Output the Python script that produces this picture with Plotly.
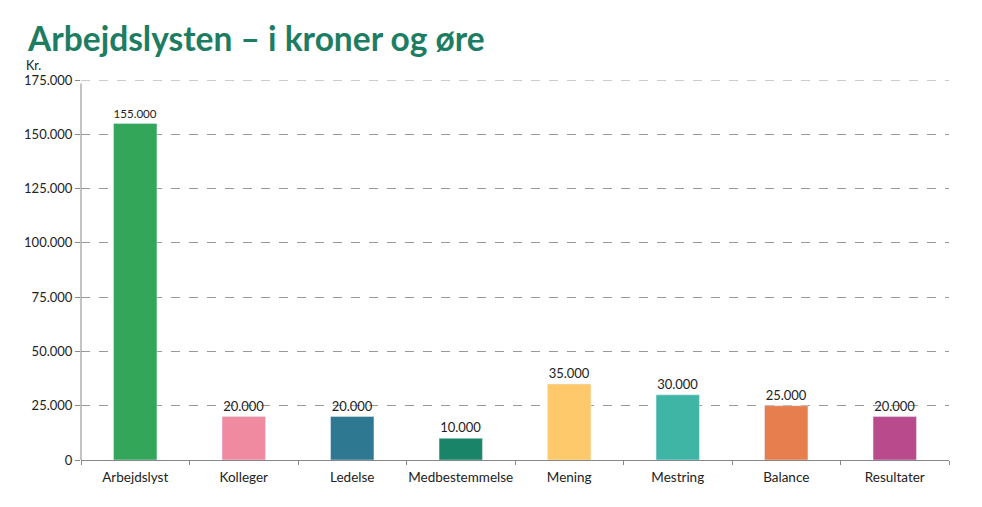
import plotly.graph_objects as go

categories = ["Arbejdslyst", "Kolleger", "Ledelse", "Medbestemmelse", "Mening", "Mestring", "Balance", "Resultater"]
values = [155000, 20000, 20000, 10000, 35000, 30000, 25000, 20000]
colors = ["#33a65a", "#ef8aa0", "#2e7891", "#1a8468", "#fdc96a", "#3fb5a6", "#e77e4e", "#b94a8c"]
y_ticks = [0, 25000, 50000, 75000, 100000, 125000, 150000, 175000]

# page body has an 8px margin, so offset everything by 8px
OFF = 8
W, H = 982, 507
L, T = 81 - OFF, 80 - OFF
R = W - (949 - OFF)
B = H - (460 - OFF)
pw, ph = W - L - R, H - T - B

fig = go.Figure(go.Bar(
    x=categories, y=values, marker_color=colors,
    text=values, texttemplate="%{y:,d}", textposition="outside",
    textfont=dict(family="Lato", size=13, color="#222"),
    cliponaxis=False,
))

fig.update_layout(
    width=W, height=H,
    margin=dict(l=L, r=R, t=T, b=B),
    paper_bgcolor="white", plot_bgcolor="white",
    separators=",.",
    bargap=0.6,
    showlegend=False,
    font=dict(family="Lato", size=13, color="#222"),
    title=dict(text="<b>Arbejdslysten – i kroner og øre</b>", x=(28 - OFF) / W, xanchor="left",
               xref="container",
               y=1 - (39 - OFF) / H, yanchor="middle",
               font=dict(family="Lato", size=33.5, color="#1d7d63")),
    annotations=[dict(text="Kr.", xref="paper", yref="paper",
                      x=-(81 - 24) / pw, y=1 + (80 - 65) / ph,
                      xanchor="left", yanchor="middle", showarrow=False,
                      font=dict(family="Lato", size=12.5, color="#222"))],
    shapes=[
        dict(type="line", xref="paper", yref="y", x0=0, x1=1, y0=175000, y1=175000,
             line=dict(color="#999", width=1, dash="dash"), layer="below"),
        dict(type="line", xref="paper", yref="y", x0=0, x1=0, y0=0, y1=173400,
             line=dict(color="#888", width=1), layer="above"),
    ],
)

fig.update_xaxes(
    automargin=False, tickangle=0,
    showline=True, linecolor="#888", linewidth=1,
    ticks="outside", tickson="boundaries", ticklen=4, tickcolor="#888",
    ticklabelstandoff=5,
    tickfont=dict(family="Lato", size=13.5, color="#222"),
    showgrid=False,
)
fig.update_yaxes(
    automargin=False,
    range=[0, 175000], tickvals=y_ticks, tickformat=",d",
    showline=False,
    ticks="outside", ticklen=5, tickcolor="#888",
    showgrid=True, gridcolor="#999", griddash="dash", gridwidth=1,
    zeroline=False,
    tickfont=dict(family="Lato", size=13, color="#222"),
)

fig.write_html("out.html")
